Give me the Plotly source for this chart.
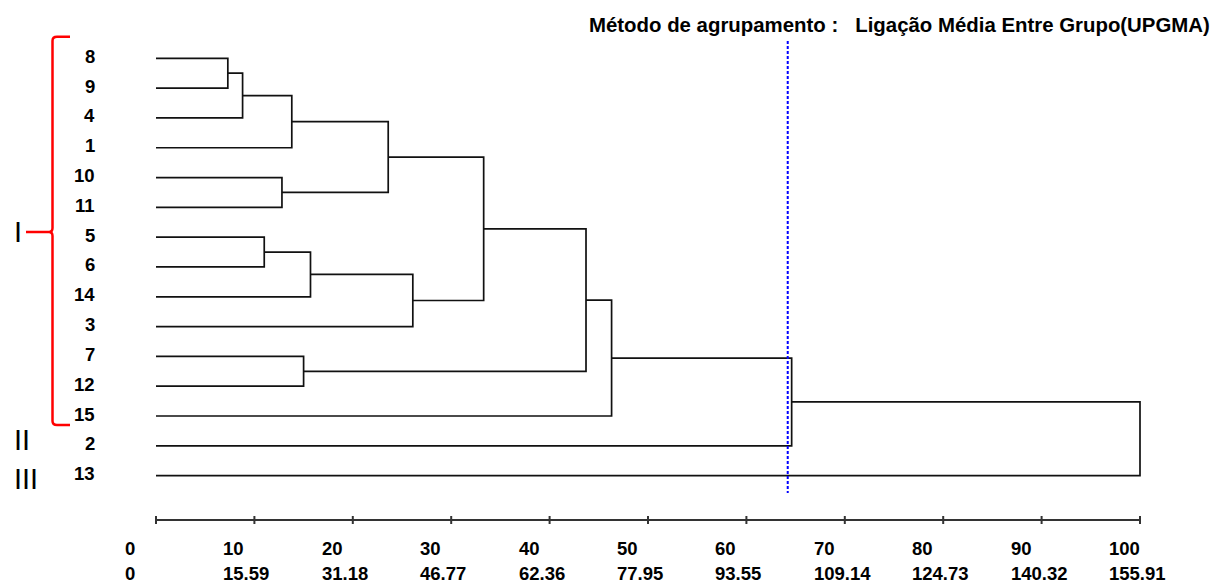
import plotly.graph_objects as go

# ---------------- data ----------------
leaf_labels = ["8", "9", "4", "1", "10", "11", "5", "6", "14", "3", "7", "12", "15", "2", "13"]
# merges (UPGMA): cluster ids 0..14 are leaves (in display order), new clusters get 15, 16, ...
merge_left = [0, 15, 16, 4, 17, 6, 20, 21, 19, 10, 23, 25, 26, 27]
merge_right = [1, 2, 3, 5, 18, 7, 8, 9, 22, 11, 24, 12, 13, 14]
merge_height = [7.3, 8.8, 13.8, 12.8, 23.6, 11.0, 15.7, 26.1, 33.3, 15.0, 43.7, 46.3, 64.6, 100.0]
cut_value = 64.2
scale_ticks = [0, 10, 20, 30, 40, 50, 60, 70, 80, 90, 100]
scale_labels_2 = ["0", "15.59", "31.18", "46.77", "62.36", "77.95", "93.55", "109.14", "124.73", "140.32", "155.91"]
group_names = ["I", "II", "III"]
title_text = "Método de agrupamento :\u00a0\u00a0\u00a0Ligação Média Entre Grupo(UPGMA)"

# ---------------- geometry / style ----------------
W, H = 1211, 585
PX0, PX100 = 156, 1140
ROW0_PX, ROW_STEP = 58.3, 29.81
span = 100 * W / (PX100 - PX0)
XMIN = -PX0 * span / W
XMAX = XMIN + span
YTOP = -ROW0_PX / ROW_STEP
YBOT = (H - ROW0_PX) / ROW_STEP


def row_of_px(p):
    return (p - ROW0_PX) / ROW_STEP


def paper_x(p):
    return p / W


def paper_y(p):
    return 1 - p / H


FONT = "Liberation Sans, Arial, sans-serif"

# ---------------- dendrogram geometry ----------------
n = len(leaf_labels)
pos_y = {i: float(i) for i in range(n)}
pos_x = {i: 0.0 for i in range(n)}
xs, ys = [], []
for k, (a, b, h) in enumerate(zip(merge_left, merge_right, merge_height)):
    ya, yb = pos_y[a], pos_y[b]
    xa, xb = pos_x[a], pos_x[b]
    xs += [xa, h, h, xb, None]
    ys += [ya, ya, yb, yb, None]
    pos_y[n + k] = (ya + yb) / 2
    pos_x[n + k] = h

fig = go.Figure()
fig.add_trace(go.Scatter(x=xs, y=ys, mode="lines",
                         line=dict(color="#111111", width=1.7),
                         hoverinfo="skip", showlegend=False))

# cut line
fig.add_trace(go.Scatter(x=[cut_value, cut_value], y=[row_of_px(41), row_of_px(493)], mode="lines",
                         line=dict(color="#0000ff", width=2, dash="3px,2px"),
                         hoverinfo="skip", showlegend=False))

# scale bar
scale_y = row_of_px(520)
sx, sy = [scale_ticks[0], scale_ticks[-1], None], [scale_y, scale_y, None]
for t in scale_ticks:
    sx += [t, t, None]
    sy += [row_of_px(516), row_of_px(524), None]
fig.add_trace(go.Scatter(x=sx, y=sy, mode="lines",
                         line=dict(color="#333333", width=2),
                         hoverinfo="skip", showlegend=False))

annotations = []
# leaf labels
for i, lab in enumerate(leaf_labels):
    annotations.append(dict(x=paper_x(97), xref="paper", y=i, yref="y", text=lab,
                            xanchor="right", yanchor="middle", showarrow=False, yshift=2,
                            font=dict(family=FONT, size=18.5, color="#000000", weight="bold")))
# scale labels
for t, l2 in zip(scale_ticks, scale_labels_2):
    annotations.append(dict(x=t, xref="x", y=paper_y(548), yref="paper", text=str(t),
                            xanchor="left", yanchor="middle", xshift=-33, showarrow=False,
                            font=dict(family=FONT, size=18.5, color="#000000", weight="bold")))
    annotations.append(dict(x=t, xref="x", y=paper_y(573), yref="paper", text=l2,
                            xanchor="left", yanchor="middle", xshift=-33, showarrow=False,
                            font=dict(family=FONT, size=18.5, color="#000000", weight="bold")))
# title
annotations.append(dict(x=paper_x(587), xref="paper", y=paper_y(25), yref="paper", text=title_text,
                        xanchor="left", yanchor="middle", showarrow=False,
                        font=dict(family=FONT, size=20.4, color="#000000", weight="bold")))
# group numerals
for name, py in zip(group_names, [232, 440, 479]):
    annotations.append(dict(x=paper_x(12), xref="paper", y=paper_y(py), yref="paper", text=name,
                            xanchor="left", yanchor="middle", showarrow=False,
                            font=dict(family=FONT, size=29, color="#000000")))

# red bracket for group I
t, c, b = paper_y(36.7), paper_y(232), paper_y(425)
xv, xh, xc, xl = paper_x(52.5), paper_x(70), paper_x(49), paper_x(26)
dy = 4 / H
path = (f"M {xh},{t} L {paper_x(57)},{t} Q {xv},{t} {xv},{t - dy} "
        f"L {xv},{c + dy} Q {xv},{c} {xc},{c} Q {xv},{c} {xv},{c - dy} "
        f"L {xv},{b + dy} Q {xv},{b} {paper_x(57)},{b} L {xh},{b} "
        f"M {xl},{c} L {xc},{c}")
shapes = [dict(type="path", xref="paper", yref="paper", path=path,
               line=dict(color="#ff0000", width=2.5))]

fig.update_layout(
    width=W, height=H, autosize=False,
    margin=dict(l=0, r=0, t=0, b=0),
    paper_bgcolor="white", plot_bgcolor="white",
    xaxis=dict(range=[XMIN, XMAX], visible=False, fixedrange=True),
    yaxis=dict(range=[YBOT, YTOP], visible=False, fixedrange=True),
    annotations=annotations, shapes=shapes, showlegend=False,
)

fig.write_html("out.html", config={"displayModeBar": False},
               post_script="document.body.style.margin='0';document.body.style.overflow='hidden';")
